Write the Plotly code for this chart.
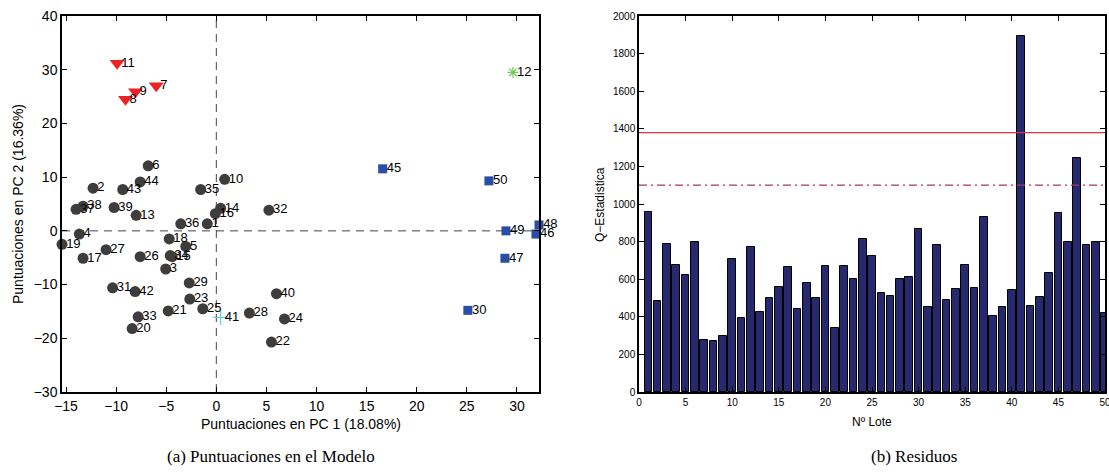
import plotly.graph_objects as go

# ---------------- data: scores plot ----------------
lotes = list(range(1, 51))
pc1 = [-0.9, -12.3, -5.05, -13.67, -3.05, -6.8, -6.0, -9.07, -8.07, 0.83,
       -9.9, 29.6, -8.0, 0.43, -4.4, -0.1, -13.3, -4.7, -15.4, -8.4,
       -4.8, 5.5, -2.65, 6.8, -1.35, -7.6, -11.0, 3.3, -2.7, 25.1,
       -10.35, 5.25, -7.8, -4.6, -1.56, -3.55, -14.0, -13.3, -10.2, 6.0,
       0.43, -8.1, -9.34, -7.6, 16.6, 31.9, 28.8, 32.2, 28.9, 27.2]
pc2 = [1.3, 7.95, -7.1, -0.6, -2.9, 12.1, 27.0, 24.5, 25.9, 9.6,
       31.2, 29.5, 2.9, 4.2, -4.8, 3.2, -5.1, -1.5, -2.5, -18.2,
       -14.9, -20.7, -12.7, -16.4, -14.5, -4.8, -3.5, -15.3, -9.7, -14.8,
       -10.6, 3.85, -16.0, -4.6, 7.7, 1.3, 4.0, 4.6, 4.35, -11.7,
       -16.1, -11.3, 7.7, 9.1, 11.55, -0.6, -5.1, 1.1, 0.0, 9.3]
clase = ["N"] * 50
for i in [7, 8, 9, 11]:
    clase[i - 1] = "A"
for i in [30, 45, 46, 47, 48, 49, 50]:
    clase[i - 1] = "B"
clase[12 - 1] = "C"
clase[41 - 1] = "D"

# ---------------- data: residuals ----------------
q_est = [956, 484, 789, 677, 624, 800, 277, 270, 297, 708,
         396, 770, 427, 501, 560, 665, 441, 580, 500, 672,
         343, 670, 599, 812, 725, 524, 510, 603, 610, 869,
         452, 780, 491, 548, 676, 551, 932, 405, 452, 540,
         1895, 459, 508, 631, 953, 800, 1243, 784, 796, 418]
lim_99 = 1380
lim_95 = 1100

xt_left = [-15, -10, -5, 0, 5, 10, 15, 20, 25, 30]
yt_left = [-30, -20, -10, 0, 10, 20, 30, 40]
xt_right = [0, 5, 10, 15, 20, 25, 30, 35, 40, 45, 50]
yt_right = list(range(0, 2001, 200))

W, H = 1109, 472
SANS = "Liberation Sans, Arial, Helvetica, sans-serif"
SERIF = "Liberation Serif, DejaVu Serif, serif"

styles = {
    "N": dict(symbol="circle", size=11, color="#3d3d3d", line=dict(width=0)),
    "A": dict(symbol="triangle-down", size=13, color="#ee2222", line=dict(width=0)),
    "B": dict(symbol="square", size=9, color="#2a4ea6", line=dict(width=0)),
    "C": dict(symbol="asterisk-open", size=9, color="#6ccc55", line=dict(width=1.2, color="#6ccc55")),
    "D": dict(symbol="cross-thin-open", size=11, color="#66d0e0", line=dict(width=1.2, color="#66d0e0")),
}

fig = go.Figure()

# zero reference lines (left)
fig.add_trace(go.Scatter(x=[0, 0], y=[-30, 40], mode="lines", xaxis="x", yaxis="y",
                         line=dict(color="#444444", width=1, dash="8px,6px"),
                         hoverinfo="skip", showlegend=False))
fig.add_trace(go.Scatter(x=[-15.4, 32.2], y=[0, 0], mode="lines", xaxis="x", yaxis="y",
                         line=dict(color="#444444", width=1, dash="8px,6px"),
                         hoverinfo="skip", showlegend=False))

for c in ["N", "A", "B", "C", "D"]:
    idx = [i for i in range(50) if clase[i] == c]
    fig.add_trace(go.Scatter(
        x=[pc1[i] for i in idx], y=[pc2[i] for i in idx],
        mode="markers", marker=styles[c], xaxis="x", yaxis="y",
        showlegend=False, cliponaxis=False,
    ))

# point labels, placed just right of each marker
fig.add_trace(go.Scatter(
    x=pc1, y=pc2, text=[str(v) for v in lotes],
    mode="markers+text", textposition="middle right",
    textfont=dict(family=SANS, size=13, color="black"),
    marker=dict(size=5, opacity=0), xaxis="x", yaxis="y",
    showlegend=False, cliponaxis=False, hoverinfo="skip",
))

# bars (right)
fig.add_trace(go.Bar(x=lotes, y=q_est, width=0.82, xaxis="x2", yaxis="y2",
                     marker=dict(color="#27296e", line=dict(color="black", width=1)),
                     showlegend=False))
fig.add_trace(go.Scatter(x=[0, 50], y=[lim_99, lim_99], mode="lines", xaxis="x2", yaxis="y2",
                         line=dict(color="#e0304a", width=1.2), showlegend=False, hoverinfo="skip"))
fig.add_trace(go.Scatter(x=[0, 50], y=[lim_95, lim_95], mode="lines", xaxis="x2", yaxis="y2",
                         line=dict(color="#a83a5a", width=1.2, dash="8px,4px,2px,4px"),
                         showlegend=False, hoverinfo="skip"))

L0, L1 = 62 / W, 539 / W
R0, R1 = 639 / W, 1105 / W
B, T = 1 - 392 / H, 1 - 16 / H

axcommon = dict(showline=True, linecolor="black", linewidth=1.5, mirror="ticks",
                ticks="inside", ticklen=5, tickcolor="black", showgrid=False,
                zeroline=False, automargin=False, ticklabeloverflow="allow")

fig.update_layout(
    width=W, height=H, margin=dict(l=0, r=0, t=0, b=0),
    plot_bgcolor="white", paper_bgcolor="white",
    xaxis=dict(domain=[L0, L1], range=[-15.4, 32.2], tickvals=xt_left,
               ticktext=[str(v).replace("-", "\u2212") for v in xt_left],
               tickfont=dict(family=SANS, size=14, color="black"), anchor="y", **axcommon),
    yaxis=dict(domain=[B, T], range=[-30, 40], tickvals=yt_left,
               ticktext=[str(v).replace("-", "\u2212") for v in yt_left],
               tickfont=dict(family=SANS, size=14, color="black"), anchor="x", **axcommon),
    xaxis2=dict(domain=[R0, R1], range=[0, 50], tickvals=xt_right,
                tickfont=dict(family=SANS, size=10, color="black"), anchor="y2", **axcommon),
    yaxis2=dict(domain=[B, T], range=[0, 2000], tickvals=yt_right,
                tickfont=dict(family=SANS, size=10, color="black"), anchor="x2", **axcommon),
    bargap=0,
)

ann = [
    dict(text="Puntuaciones en PC 1 (18.08%)", x=(L0 + L1) / 2, y=1 - 424 / H,
         font=dict(family=SANS, size=14)),
    dict(text="Puntuaciones en PC 2 (16.36%)", x=18 / W, y=(B + T) / 2, textangle=-90,
         font=dict(family=SANS, size=14)),
    dict(text="Nº Lote", x=(R0 + R1) / 2, y=1 - 422 / H, font=dict(family=SANS, size=12)),
    dict(text="Q\u2212Estadistica", x=600 / W, y=(B + T) / 2, textangle=-90,
         font=dict(family=SANS, size=12)),
    dict(text="(a) Puntuaciones en el Modelo", x=271 / W, y=1 - 456 / H,
         font=dict(family=SERIF, size=17)),
    dict(text="(b) Residuos", x=914 / W, y=1 - 456 / H, font=dict(family=SERIF, size=17)),
]
for a in ann:
    a.update(xref="paper", yref="paper", showarrow=False, xanchor="center", yanchor="middle")
    a["font"]["color"] = "black"
fig.update_layout(annotations=ann)

fig.write_html("out.html")
